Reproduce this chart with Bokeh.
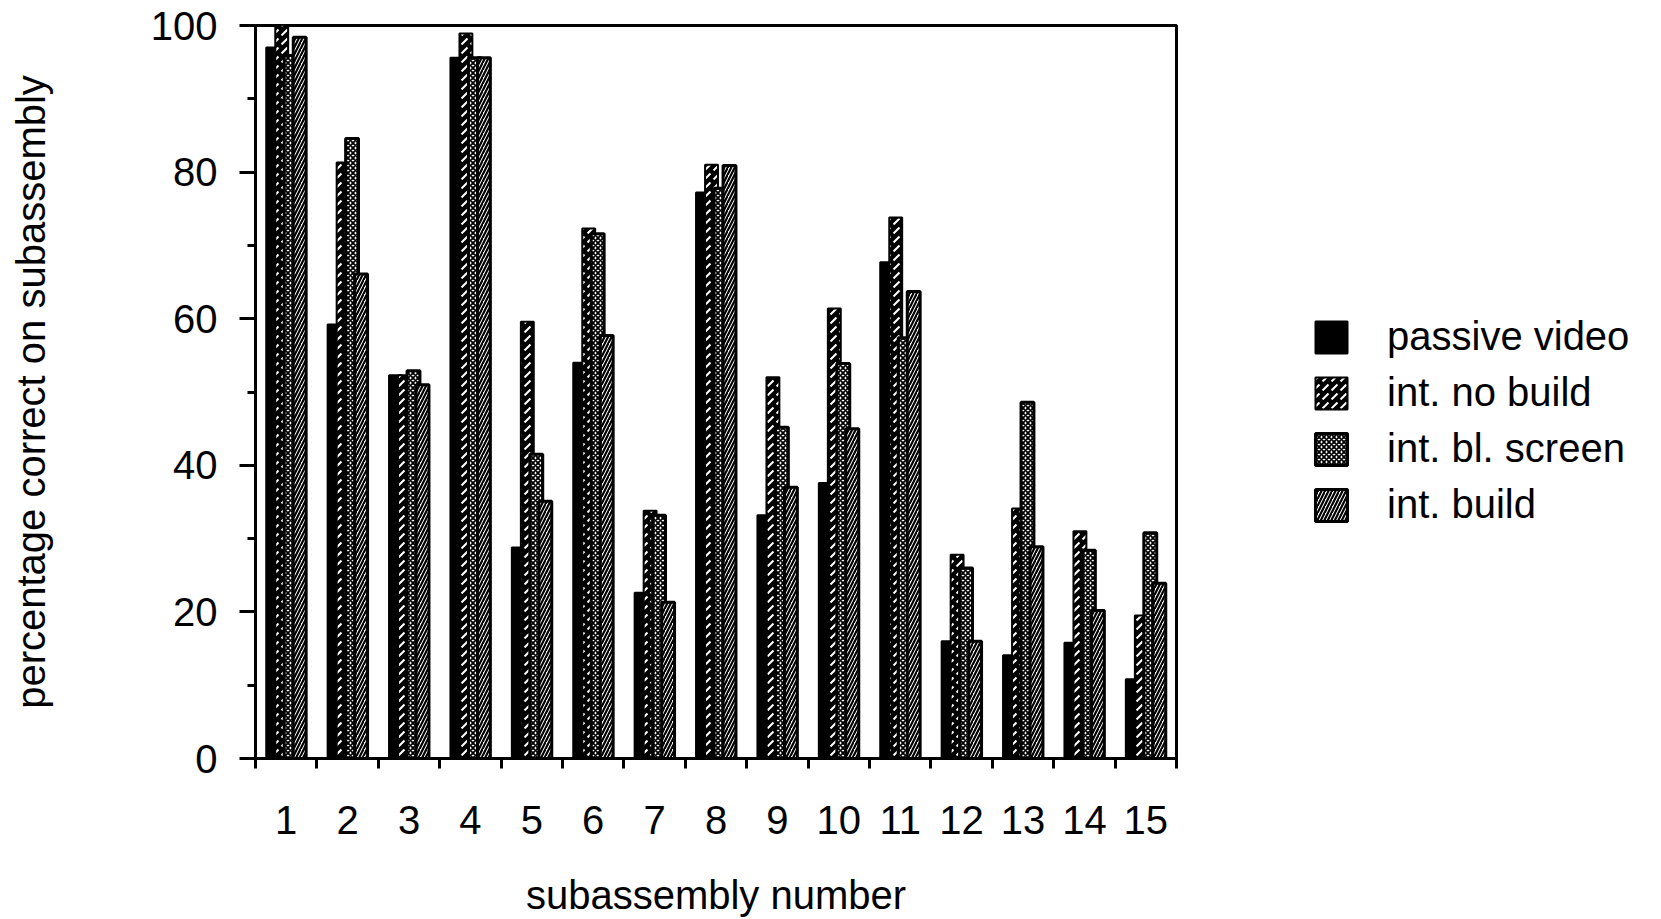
from bokeh.plotting import figure
from bokeh.models import ColumnDataSource, FixedTicker, Legend, LegendItem
from bokeh.transform import dodge
from bokeh.embed import file_html
from bokeh.resources import INLINE

# ---- data ----
subassembly = list(range(1, 16))
tick_labels = [str(i) for i in subassembly]
series_names = ["passive video", "int. no build", "int. bl. screen", "int. build"]
passive_video = [97.0, 59.2, 52.3, 95.6, 28.8, 54.0, 22.6, 77.2, 33.2, 37.6, 67.7, 16.0, 14.1, 15.8, 10.8]
int_no_build = [100.0, 81.3, 52.3, 98.9, 59.6, 72.3, 33.8, 81.0, 52.0, 61.4, 73.8, 27.8, 34.1, 31.0, 19.5]
int_bl_screen = [95.9, 84.6, 52.9, 95.6, 41.5, 71.6, 33.2, 77.8, 45.2, 53.9, 57.4, 26.0, 48.6, 28.4, 30.8]
int_build = [98.4, 66.1, 51.0, 95.6, 35.1, 57.7, 21.3, 80.9, 37.0, 45.0, 63.7, 16.0, 28.9, 20.2, 23.9]
y_ticks = [0, 20, 40, 60, 80, 100]
y_minor = [10, 30, 50, 70, 90]

src = ColumnDataSource(dict(x=subassembly, passive=passive_video, nobuild=int_no_build,
                            blscreen=int_bl_screen, build=int_build))

FONT = "Liberation Sans"

p = figure(x_range=(0.5, 15.5), y_range=(0, 100), frame_width=921, frame_height=733,
           min_border_left=255, min_border_top=25, min_border_right=470, min_border_bottom=150,
           output_backend="svg", toolbar_location=None)

bw = 0.21
r1 = p.vbar(x=dodge("x", -0.22, range=p.x_range), top="passive", width=bw, source=src,
            fill_color="black", line_color="black", line_width=2)
r2 = p.vbar(x=dodge("x", -0.073, range=p.x_range), top="nobuild", width=bw, source=src,
            fill_color="black", line_color="black", line_width=2,
            hatch_pattern=",", hatch_color="white", hatch_scale=9, hatch_weight=2)
r3 = p.vbar(x=dodge("x", 0.073, range=p.x_range), top="blscreen", width=bw, source=src,
            fill_color="white", line_color="black", line_width=3,
            hatch_pattern="x", hatch_color="black", hatch_scale=5, hatch_weight=1.8)
r4 = p.vbar(x=dodge("x", 0.22, range=p.x_range), top="build", width=bw, source=src,
            fill_color="white", line_color="black", line_width=3,
            hatch_pattern="/", hatch_color="black", hatch_scale=7, hatch_weight=2.2)

p.xgrid.visible = False
p.ygrid.visible = False
p.outline_line_color = "black"
p.outline_line_width = 3
p.outline_line_alpha = 1.0

xa = p.xaxis[0]
xa.ticker = FixedTicker(ticks=subassembly, minor_ticks=[i + 0.5 for i in range(0, 16)])
xa.major_label_overrides = {i: lab for i, lab in zip(subassembly, tick_labels)}
xa.major_tick_out = 0
xa.major_tick_in = 0
xa.minor_tick_out = 10
xa.minor_tick_in = 0
xa.minor_tick_line_width = 3
xa.axis_line_width = 3
xa.major_label_text_font = FONT
xa.major_label_text_font_size = "40px"
xa.major_label_text_color = "black"
xa.major_label_standoff = 37
xa.axis_label = "subassembly number"
xa.axis_label_text_font = FONT
xa.axis_label_text_font_size = "40px"
xa.axis_label_text_font_style = "normal"
xa.axis_label_text_color = "black"
xa.axis_label_standoff = 36

ya = p.yaxis[0]
ya.ticker = FixedTicker(ticks=y_ticks, minor_ticks=y_minor)
ya.major_tick_out = 16
ya.major_tick_in = 0
ya.minor_tick_out = 8
ya.minor_tick_in = 0
ya.major_tick_line_width = 3
ya.minor_tick_line_width = 3
ya.axis_line_width = 3
ya.major_label_text_font = FONT
ya.major_label_text_font_size = "40px"
ya.major_label_text_color = "black"
ya.major_label_standoff = 22
ya.axis_label = "percentage correct on subassembly"
ya.axis_label_text_font = FONT
ya.axis_label_text_font_size = "40px"
ya.axis_label_text_font_style = "normal"
ya.axis_label_text_color = "black"
ya.axis_label_standoff = 95

legend = Legend(items=[LegendItem(label=n, renderers=[r]) for n, r in zip(series_names, [r1, r2, r3, r4])],
                location=(135, 231), orientation="vertical",
                glyph_width=40, glyph_height=40, label_height=40,
                label_text_font=FONT, label_text_font_size="40px", label_text_color="black",
                label_standoff=36, spacing=11, padding=0, margin=0,
                border_line_alpha=0, background_fill_alpha=0)
p.add_layout(legend, "right")

open("out.html", "w").write(file_html(p, INLINE))
